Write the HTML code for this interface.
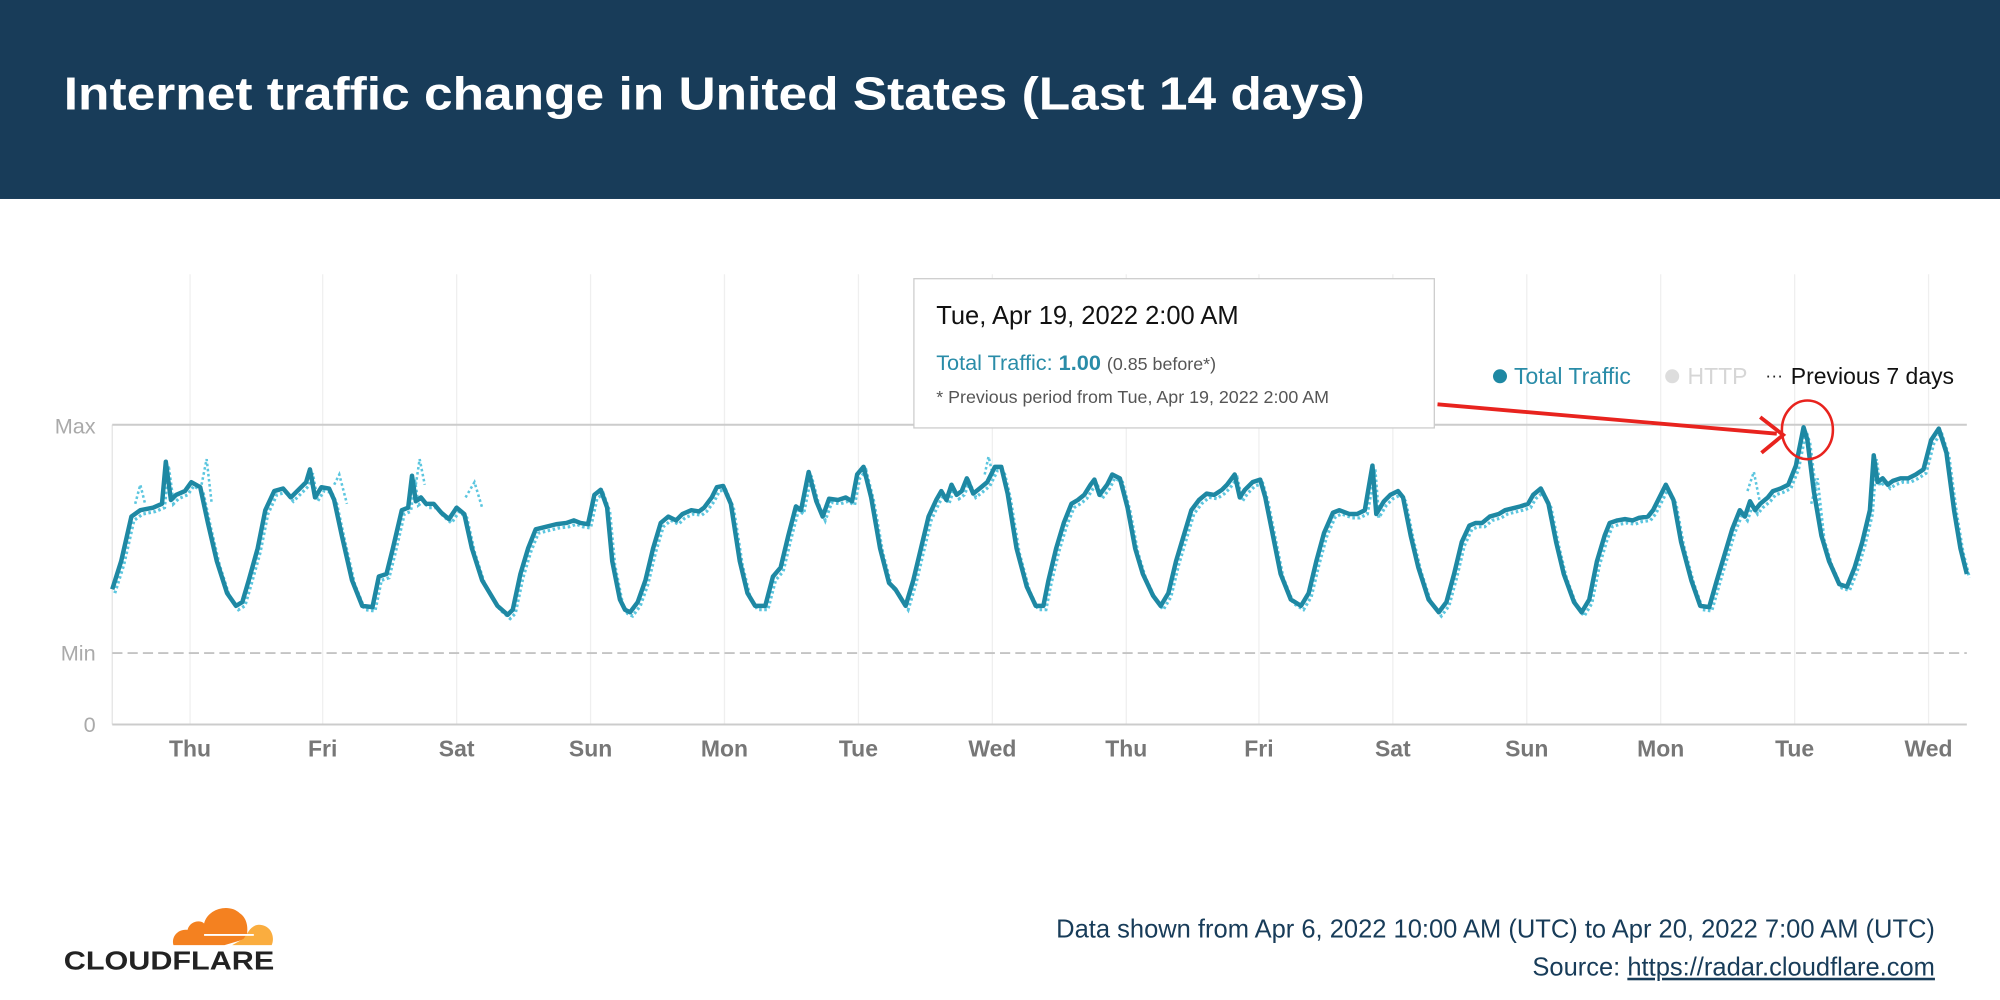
<!DOCTYPE html>
<html><head><meta charset="utf-8"><style>html,body{margin:0;padding:0;background:#fff}svg{display:block}</style></head>
<body>
<svg width="2000" height="1000" viewBox="0 0 1568 784" xmlns="http://www.w3.org/2000/svg" font-family="Liberation Sans, sans-serif">
<rect x="0" y="0" width="1568" height="156" fill="#183c59"/>
<text x="50" y="86" fill="#fff" font-size="36" font-weight="bold" textLength="1020" lengthAdjust="spacingAndGlyphs">Internet traffic change in United States (Last 14 days)</text>
<g stroke="#efefef" stroke-width="1">
<line x1="149" y1="215" x2="149" y2="568"/><line x1="253" y1="215" x2="253" y2="568"/><line x1="358" y1="215" x2="358" y2="568"/><line x1="463" y1="215" x2="463" y2="568"/><line x1="568" y1="215" x2="568" y2="568"/><line x1="673" y1="215" x2="673" y2="568"/><line x1="778" y1="215" x2="778" y2="568"/><line x1="883" y1="215" x2="883" y2="568"/><line x1="987" y1="215" x2="987" y2="568"/><line x1="1092" y1="215" x2="1092" y2="568"/><line x1="1197" y1="215" x2="1197" y2="568"/><line x1="1302" y1="215" x2="1302" y2="568"/><line x1="1407" y1="215" x2="1407" y2="568"/><line x1="1512" y1="215" x2="1512" y2="568"/>
</g>
<line x1="88" y1="333" x2="88" y2="568" stroke="#e4e4e4"/>
<line x1="88" y1="333" x2="1542" y2="333" stroke="#ccc" stroke-width="1.5"/>
<line x1="88" y1="512" x2="1542" y2="512" stroke="#c4c4c4" stroke-width="1.5" stroke-dasharray="8,4"/>
<line x1="88" y1="568" x2="1542" y2="568" stroke="#ccc" stroke-width="1.5"/>
<g fill="#aaa" font-size="17" text-anchor="end">
<text x="75" y="340">Max</text><text x="75" y="518">Min</text><text x="75" y="574">0</text>
</g>
<g fill="#777" font-size="18" font-weight="bold" text-anchor="middle">
<text x="149" y="593">Thu</text><text x="253" y="593">Fri</text><text x="358" y="593">Sat</text><text x="463" y="593">Sun</text><text x="568" y="593">Mon</text><text x="673" y="593">Tue</text><text x="778" y="593">Wed</text><text x="883" y="593">Thu</text><text x="987" y="593">Fri</text><text x="1092" y="593">Sat</text><text x="1197" y="593">Sun</text><text x="1302" y="593">Mon</text><text x="1407" y="593">Tue</text><text x="1512" y="593">Wed</text>
</g>
<defs>
<polyline id="ser" points="88,462 95,440 103,405 110,400 120,398 127,395 130,362 134,392 138,388 145,385 150,378 157,382 163,410 170,440 178,465 185,475 190,472 195,455 202,430 208,400 215,385 222,383 228,390 235,383 240,378 243,368 247,390 252,382 258,383 262,392 268,420 276,455 284,475 292,476 297,452 303,450 308,430 315,400 320,398 323,373 326,393 330,390 334,395 340,395 346,402 352,407 358,398 364,403 370,430 378,455 390,475 398,482 402,478 408,450 414,430 420,415 428,413 436,411 444,410 450,408 455,410 461,411 466,388 471,384 476,398 480,440 486,470 490,478 494,480 500,472 506,455 512,430 518,410 524,405 530,408 535,403 542,400 548,401 552,398 558,390 562,382 567,381 573,395 580,440 586,465 592,475 600,475 606,452 612,445 618,420 624,397 628,400 634,370 640,393 645,405 650,391 657,392 663,390 668,393 672,372 677,366 683,390 690,430 697,457 702,462 710,475 716,455 722,430 728,405 734,392 738,385 742,392 746,380 750,388 754,385 758,375 763,387 768,383 774,378 780,366 785,366 790,387 797,430 805,460 812,475 818,475 822,455 828,430 834,410 840,395 845,392 850,388 855,380 858,376 862,388 868,380 872,372 878,375 884,398 890,430 896,450 904,467 910,475 916,465 922,440 928,420 934,400 940,392 946,387 952,388 958,384 962,380 968,372 972,390 976,384 982,378 988,376 992,390 998,420 1004,450 1012,470 1020,475 1026,465 1032,440 1038,418 1045,402 1050,400 1058,403 1064,403 1070,400 1076,365 1079,403 1085,393 1090,388 1096,385 1100,390 1106,420 1112,445 1120,470 1128,480 1134,472 1140,450 1146,425 1152,412 1157,410 1162,410 1168,405 1175,403 1180,400 1188,398 1192,397 1198,395 1202,388 1208,383 1214,395 1220,425 1226,450 1234,472 1240,480 1246,470 1252,440 1258,420 1262,410 1268,408 1274,407 1280,408 1285,406 1292,405 1296,400 1300,392 1306,380 1312,392 1318,425 1326,455 1333,475 1340,476 1346,455 1352,435 1358,415 1364,400 1368,405 1372,393 1376,400 1380,395 1386,390 1390,385 1396,383 1402,380 1408,365 1414,335 1417,345 1422,385 1428,420 1434,440 1442,458 1448,460 1454,445 1460,425 1466,400 1469,357 1472,378 1476,375 1480,380 1484,377 1490,375 1496,375 1502,372 1508,368 1514,345 1520,336 1526,355 1532,400 1537,430 1542,450"/>
</defs>
<use href="#ser" transform="translate(2,3)" fill="none" stroke="#5cc6df" stroke-width="2.5" stroke-dasharray="2,2"/>
<g fill="none" stroke="#5cc6df" stroke-width="2" stroke-dasharray="2,2">
<polyline points="106,395 110,380 114,396"/>
<polyline points="158,380 162,360 166,395"/>
<polyline points="262,380 266,372 272,395"/>
<polyline points="326,380 329,360 333,380"/>
<polyline points="365,390 372,378 378,398"/>
<polyline points="772,372 775,358 779,375"/>
<polyline points="1370,385 1375,370 1380,395"/>
<polyline points="1420,395 1425,375 1430,420"/>
</g>
<use href="#ser" fill="none" stroke="#1e88a3" stroke-width="3.5" stroke-linejoin="round"/>
<rect x="716.5" y="218.5" width="408" height="117" fill="#fff" stroke="#ccc" stroke-width="1"/>
<text x="734" y="254" font-size="20" fill="#111">Tue, Apr 19, 2022 2:00 AM</text>
<text x="734" y="290" font-size="17" fill="#2a8ca8">Total Traffic: <tspan font-weight="bold">1.00</tspan> <tspan font-size="14" fill="#555">(0.85 before*)</tspan></text>
<text x="734" y="316" font-size="14" fill="#555">* Previous period from Tue, Apr 19, 2022 2:00 AM</text>
<circle cx="1176" cy="295" r="5.5" fill="#1e88a3"/>
<text x="1187" y="301" font-size="18" fill="#2a8ca8">Total Traffic</text>
<circle cx="1311" cy="295" r="5.5" fill="#ddd"/>
<text x="1323" y="301" font-size="18" fill="#d6d6d6">HTTP</text>
<text x="1384" y="299" font-size="14" fill="#222">···</text>
<text x="1404" y="301" font-size="18" fill="#111">Previous 7 days</text>
<line x1="1127" y1="317" x2="1393" y2="340" stroke="#e8231e" stroke-width="3"/>
<polyline points="1380,327 1398,341 1381,355" fill="none" stroke="#e8231e" stroke-width="3"/>
<ellipse cx="1417" cy="337" rx="20" ry="23" fill="none" stroke="#e8231e" stroke-width="2"/>
<g fill="#183c59" font-size="20" text-anchor="end">
<text x="1517" y="735">Data shown from Apr 6, 2022 10:00 AM (UTC) to Apr 20, 2022 7:00 AM (UTC)</text>
<text x="1517" y="765">Source: <tspan text-decoration="underline">https://radar.cloudflare.com</tspan></text>
</g>
<g>
<path d="M176,741 L136,741 C134,734 140,728 147,729 C149,722 157,721 160,724 C163,712 180,708 188,716 C194,720 195,728 193,736 Z" fill="#f48120"/>
<path d="M182,741 L213,741 C216,734 212,725 203,725 C200,725 197,727 195,730 L191,736 Z" fill="#faad3f"/>
<line x1="160" y1="733" x2="199" y2="733" stroke="#fff" stroke-width="1.5"/>
<text x="50" y="760" font-size="20" font-weight="bold" fill="#222" textLength="165" lengthAdjust="spacingAndGlyphs">CLOUDFLARE</text>
</g>
</svg>
</body></html>
